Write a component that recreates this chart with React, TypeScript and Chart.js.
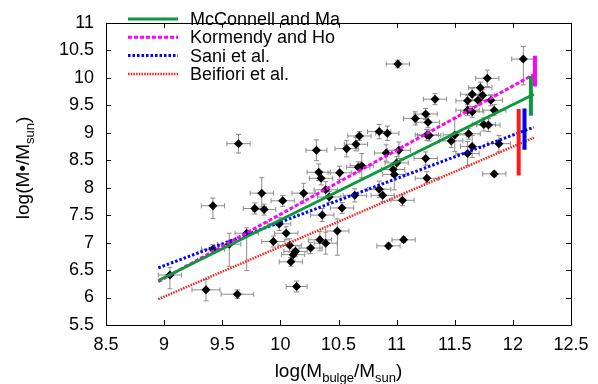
import React, { useEffect, useRef } from "react";
import { Chart, registerables } from "chart.js";

Chart.register(...registerables);

// ---- data ----
const logMbulge = [
  9.64, 11.01, 11.16, 10.85, 10.92, 10.68, 10.65, 10.57, 10.31, 11.02,
  10.91, 10.7, 10.67, 11.0, 10.97, 10.98, 10.33, 10.35, 10.51, 11.25,
  12.09, 11.78, 11.72, 11.65, 11.74, 11.61, 11.7, 11.81, 11.33, 11.61,
  11.65, 11.84, 11.25, 11.27, 11.75, 11.79, 11.26, 11.28, 11.5, 11.62,
  11.47, 11.65, 11.88, 11.61, 11.26, 11.84, 9.84, 9.42, 9.78, 9.86,
  9.99, 9.71, 9.94, 9.56, 9.42, 9.05, 9.36, 9.63, 10.2, 10.02,
  10.39, 10.42, 10.64, 10.85, 10.88, 11.05, 10.53, 10.36, 10.05, 10.49,
  10.34, 10.39, 10.26, 10.08, 10.13, 10.11, 10.09, 10.93, 11.06, 10.14,
];
const logMbh = [
  8.8, 10.25, 9.26, 9.02, 8.99, 8.94, 8.79, 8.71, 8.68, 8.68,
  8.63, 8.4, 8.37, 8.45, 8.33, 8.24, 8.28, 8.17, 8.27, 8.53,
  10.34, 9.99, 9.82, 9.7, 9.68, 9.58, 9.59, 9.59, 9.61, 9.41,
  9.38, 9.41, 9.34, 9.19, 9.15, 9.14, 8.96, 8.95, 8.96, 8.98,
  8.85, 8.75, 8.8, 8.62, 8.17, 8.25, 7.9, 7.67, 7.62, 7.6,
  7.34, 7.17, 7.02, 6.97, 6.88, 6.41, 6.14, 6.06, 7.9, 7.76,
  7.96, 7.83, 7.86, 7.97, 7.86, 7.77, 7.63, 7.5, 7.17, 7.21,
  7.05, 6.99, 6.9, 6.95, 6.84, 6.78, 6.65, 6.94, 7.05, 6.2,
];
const xErr = [
  0.1, 0.1, 0.1, 0.1, 0.1, 0.1, 0.1, 0.1, 0.09, 0.1,
  0.1, 0.1, 0.1, 0.1, 0.1, 0.1, 0.1, 0.1, 0.1, 0.1,
  0.1, 0.1, 0.1, 0.1, 0.1, 0.1, 0.1, 0.1, 0.1, 0.1,
  0.1, 0.1, 0.1, 0.1, 0.1, 0.1, 0.1, 0.1, 0.1, 0.1,
  0.1, 0.1, 0.1, 0.1, 0.1, 0.1, 0.1, 0.1, 0.1, 0.1,
  0.1, 0.1, 0.1, 0.1, 0.1, 0.1, 0.12, 0.14, 0.1, 0.1,
  0.1, 0.1, 0.1, 0.1, 0.1, 0.1, 0.1, 0.1, 0.1, 0.1,
  0.1, 0.1, 0.1, 0.1, 0.1, 0.1, 0.1, 0.1, 0.1, 0.09,
];
const yErrLow = [
  0.17, 0.07, 0.12, 0.13, 0.13, 0.08, 0.12, 0.15, 0.19, 0.15,
  0.15, 0.22, 0.1, 0.12, 0.12, 0.28, 0.15, 0.12, 0.12, 0.12,
  0.47, 0.15, 0.1, 0.1, 0.1, 0.1, 0.1, 0.1, 0.1, 0.1,
  0.1, 0.1, 0.1, 0.1, 0.12, 0.12, 0.1, 0.1, 0.3, 0.1,
  0.12, 0.2, 0.15, 0.22, 0.08, 0.05, 0.25, 0.23, 0.1, 0.1,
  0.12, 0.68, 0.1, 0.4, 0.08, 0.25, 0.2, 0.08, 0.18, 0.1,
  0.15, 0.1, 0.12, 0.15, 0.12, 0.1, 0.1, 0.12, 0.12, 0.44,
  0.2, 0.2, 0.1, 0.12, 0.1, 0.1, 0.08, 0.05, 0.05, 0.1,
];
const yErrHigh = [
  0.17, 0.07, 0.12, 0.13, 0.13, 0.08, 0.12, 0.15, 0.19, 0.15,
  0.15, 0.22, 0.1, 0.12, 0.12, 0.12, 0.15, 0.12, 0.12, 0.12,
  0.23, 0.15, 0.1, 0.1, 0.1, 0.1, 0.1, 0.1, 0.1, 0.1,
  0.1, 0.1, 0.1, 0.1, 0.12, 0.12, 0.1, 0.1, 0.3, 0.1,
  0.12, 0.2, 0.15, 0.22, 0.12, 0.05, 0.28, 0.14, 0.1, 0.1,
  0.12, 0.1, 0.1, 0.2, 0.08, 0.14, 0.19, 0.08, 0.18, 0.1,
  0.15, 0.1, 0.12, 0.15, 0.12, 0.1, 0.1, 0.12, 0.12, 0.22,
  0.15, 0.2, 0.1, 0.12, 0.1, 0.1, 0.08, 0.05, 0.05, 0.1,
];

// fit relations: end points [x] and [y]
const fitX = [8.95, 12.18];
const mcConnellMaY = [6.31, 9.7];
const kormendyHoY = [6.29, 10.06];
const saniY = [6.54, 9.1];
const beifioriY = [5.97, 8.91];

// intrinsic scatter bars (order: Beifiori, Sani, McConnell, Kormendy)
const scatterBarX = [12.05, 12.1, 12.155, 12.19];
const scatterBarLow = [8.22, 8.69, 9.31, 9.84];
const scatterBarHigh = [9.43, 9.44, 10.03, 10.4];

const xTickValues = [8.5, 9, 9.5, 10, 10.5, 11, 11.5, 12, 12.5];
const xTickLabels = ["8.5", "9", "9.5", "10", "10.5", "11", "11.5", "12", "12.5"];
const yTickValues = [5.5, 6, 6.5, 7, 7.5, 8, 8.5, 9, 9.5, 10, 10.5, 11];
const yTickLabels = ["5.5", "6", "6.5", "7", "7.5", "8", "8.5", "9", "9.5", "10", "10.5", "11"];

const legendLabels = ["McConnell and Ma", "Kormendy and Ho", "Sani et al.", "Beifiori et al."];

// ---- styles ----
const FONT = "'Liberation Sans', Arial, Helvetica, sans-serif";
const GREEN = "#0a9a3c";
const MAGENTA = "#ff00ff";
const BLUE = "#0000ff";
const RED = "#ff1a1a";

const lineStyles = [
  { color: GREEN, width: 3, dash: [] as number[] },
  { color: MAGENTA, width: 3, dash: [4, 2] },
  { color: BLUE, width: 3, dash: [2.5, 2] },
  { color: RED, width: 2.5, dash: [1.5, 1.2] },
];
const barColors = [RED, "#0000ee", GREEN, MAGENTA];

const errorBarPlugin = {
  id: "errorBars",
  beforeDatasetsDraw(chart: any) {
    const { ctx } = chart;
    const xs = chart.scales.x;
    const ys = chart.scales.y;
    ctx.save();
    ctx.strokeStyle = "#8c8c8c";
    ctx.lineWidth = 1;
    ctx.beginPath();
    const c = 2.5;
    logMbulge.forEach((xv, i) => {
      const yv = logMbh[i];
      const px = xs.getPixelForValue(xv);
      const py = ys.getPixelForValue(yv);
      const x0 = xs.getPixelForValue(xv - xErr[i]);
      const x1 = xs.getPixelForValue(xv + xErr[i]);
      const y0 = ys.getPixelForValue(yv - yErrLow[i]);
      const y1 = ys.getPixelForValue(yv + yErrHigh[i]);
      ctx.moveTo(x0, py); ctx.lineTo(x1, py);
      ctx.moveTo(x0, py - c); ctx.lineTo(x0, py + c);
      ctx.moveTo(x1, py - c); ctx.lineTo(x1, py + c);
      ctx.moveTo(px, y0); ctx.lineTo(px, y1);
      ctx.moveTo(px - c, y0); ctx.lineTo(px + c, y0);
      ctx.moveTo(px - c, y1); ctx.lineTo(px + c, y1);
    });
    ctx.stroke();
    ctx.restore();
  },
};

const framePlugin = {
  id: "frameTicks",
  afterDraw(chart: any) {
    const { ctx, chartArea: a } = chart;
    const xs = chart.scales.x;
    const ys = chart.scales.y;
    const L = 5;
    ctx.save();
    ctx.strokeStyle = "#000";
    ctx.lineWidth = 1;
    ctx.beginPath();
    ctx.rect(Math.round(a.left) + 0.5, Math.round(a.top) + 0.5, Math.round(a.right - a.left), Math.round(a.bottom - a.top));
    xTickValues.forEach((v) => {
      const px = Math.round(xs.getPixelForValue(v)) + 0.5;
      ctx.moveTo(px, a.bottom); ctx.lineTo(px, a.bottom - L);
      ctx.moveTo(px, a.top); ctx.lineTo(px, a.top + L);
    });
    yTickValues.forEach((v) => {
      const py = Math.round(ys.getPixelForValue(v)) + 0.5;
      ctx.moveTo(a.left, py); ctx.lineTo(a.left + L, py);
      ctx.moveTo(a.right, py); ctx.lineTo(a.right - L, py);
    });
    ctx.stroke();

    // legend
    ctx.font = `18px ${FONT}`;
    ctx.textBaseline = "middle";
    ctx.textAlign = "left";
    legendLabels.forEach((label, i) => {
      const y = 19 + i * 18.3;
      const st = lineStyles[i];
      ctx.beginPath();
      ctx.strokeStyle = st.color;
      ctx.lineWidth = st.width;
      ctx.setLineDash(st.dash);
      ctx.moveTo(128, y);
      ctx.lineTo(178, y);
      ctx.stroke();
      ctx.setLineDash([]);
      ctx.fillStyle = "#000";
      ctx.fillText(label, 190, y + 1);
    });

    // axis titles with subscripts
    const drawParts = (parts: { t: string; sub?: boolean }[], cx: number, baseline: number) => {
      const main = `19px ${FONT}`;
      const small = `13px ${FONT}`;
      let w = 0;
      parts.forEach((p) => {
        ctx.font = p.sub ? small : main;
        w += ctx.measureText(p.t).width;
      });
      let x = cx - w / 2;
      ctx.textAlign = "left";
      ctx.textBaseline = "alphabetic";
      ctx.fillStyle = "#000";
      parts.forEach((p) => {
        ctx.font = p.sub ? small : main;
        ctx.fillText(p.t, x, p.sub ? baseline + 5 : baseline);
        x += ctx.measureText(p.t).width;
      });
    };
    drawParts(
      [{ t: "log(M" }, { t: "bulge", sub: true }, { t: "/M" }, { t: "sun", sub: true }, { t: ")" }],
      (a.left + a.right) / 2,
      377
    );
    ctx.save();
    ctx.translate(29, (a.top + a.bottom) / 2 - 6);
    ctx.rotate(-Math.PI / 2);
    drawParts([{ t: "log(M" }, { t: "\u2022" }, { t: "/M" }, { t: "sun", sub: true }, { t: ")" }], 0, 0);
    ctx.restore();
    ctx.restore();
  },
};

export default function App() {
  const ref = useRef<HTMLCanvasElement | null>(null);
  useEffect(() => {
    if (!ref.current) return;
    const points = logMbulge.map((x, i) => ({ x, y: logMbh[i] }));
    const fits = [mcConnellMaY, kormendyHoY, saniY, beifioriY].map((ys, i) => ({
      label: legendLabels[i],
      data: fitX.map((x, j) => ({ x, y: ys[j] })),
      showLine: true,
      borderColor: lineStyles[i].color,
      borderWidth: lineStyles[i].width,
      borderDash: lineStyles[i].dash,
      pointRadius: 0,
      fill: false,
      order: 1,
    }));
    const bars = scatterBarX.map((x, i) => ({
      label: "scatter" + i,
      data: [
        { x, y: scatterBarLow[i] },
        { x, y: scatterBarHigh[i] },
      ],
      showLine: true,
      borderColor: barColors[i],
      borderWidth: 4,
      borderCapStyle: "butt",
      pointRadius: 0,
      order: 0,
    }));
    const labelFor = (values: number[], labels: string[]) => (v: any) => {
      const idx = values.findIndex((t) => Math.abs(t - Number(v)) < 1e-6);
      return idx >= 0 ? labels[idx] : "";
    };
    const chart = new Chart(ref.current, {
      type: "scatter",
      data: {
        datasets: [
          {
            label: "galaxies",
            data: points,
            pointStyle: "rectRot",
            pointRadius: 4.5,
            pointBackgroundColor: "#000",
            pointBorderColor: "#000",
            pointBorderWidth: 0,
            showLine: false,
            order: 5,
          } as any,
          ...fits,
          ...bars,
        ],
      },
      options: {
        animation: false,
        responsive: false,
        events: [],
        layout: { padding: { left: 0, right: 27, top: 6, bottom: 0 } },
        plugins: { legend: { display: false }, tooltip: { enabled: false } },
        scales: {
          x: {
            type: "linear",
            min: 8.5,
            max: 12.5,
            afterBuildTicks: (s: any) => {
              s.ticks = xTickValues.map((v) => ({ value: v }));
            },
            afterFit: (s: any) => {
              s.height = 59;
            },
            grid: { display: false, drawTicks: false },
            border: { display: false },
            ticks: {
              color: "#000",
              padding: 9,
              maxRotation: 0,
              autoSkip: false,
              font: { family: FONT, size: 18 },
              callback: labelFor(xTickValues, xTickLabels),
            },
          },
          y: {
            type: "linear",
            min: 5.5,
            max: 11,
            afterBuildTicks: (s: any) => {
              s.ticks = yTickValues.map((v) => ({ value: v }));
            },
            afterFit: (s: any) => {
              s.width = 106;
            },
            grid: { display: false, drawTicks: false },
            border: { display: false },
            ticks: {
              color: "#000",
              padding: 12,
              autoSkip: false,
              font: { family: FONT, size: 18 },
              callback: labelFor(yTickValues, yTickLabels),
            },
          },
        },
      },
      plugins: [errorBarPlugin, framePlugin],
    } as any);
    return () => chart.destroy();
  }, []);
  return (
    <div style={{ position: "fixed", left: 0, top: 0, width: 598, height: 384, background: "#fff" }}>
      <canvas ref={ref} width={598} height={384} style={{ display: "block", width: 598, height: 384 }} />
    </div>
  );
}
